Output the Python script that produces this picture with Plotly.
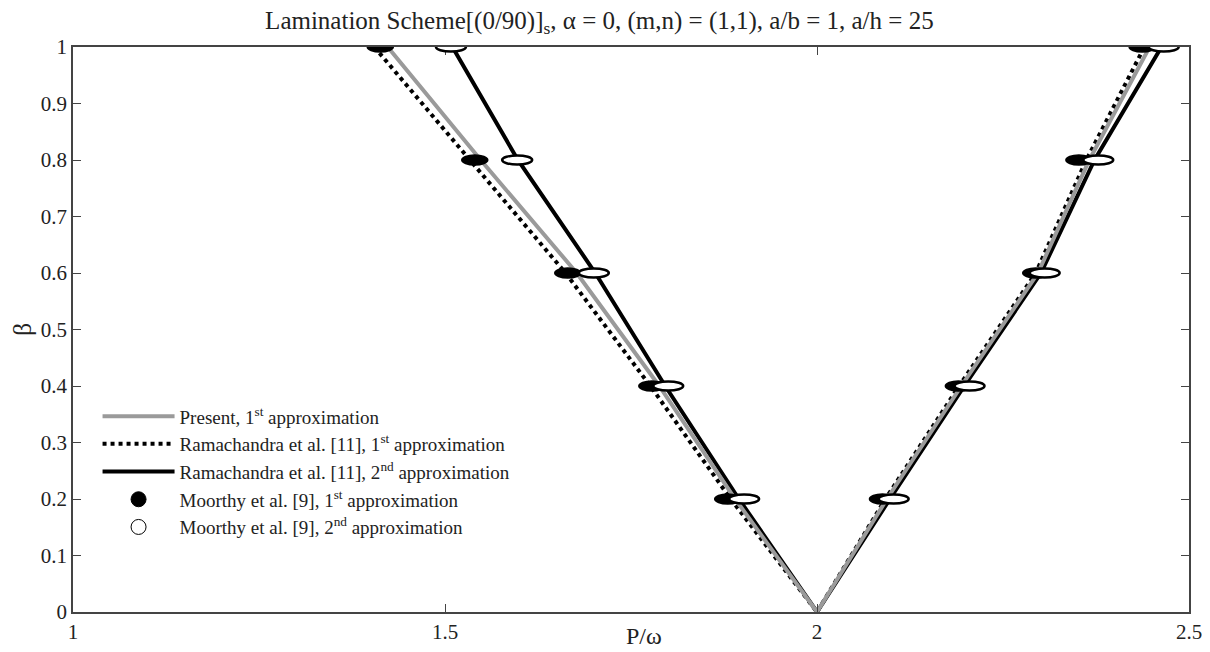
import plotly.graph_objects as go

# beta levels
beta = [0.0, 0.2, 0.4, 0.6, 0.8, 1.0]

# Present, 1st approximation (left / right branch P/omega)
present_left = [2.0, 1.890, 1.788, 1.677, 1.548, 1.423]
present_right = [2.0, 2.094, 2.194, 2.297, 2.366, 2.447]

# Ramachandra et al. [11], 1st approximation
rama1_left = [2.0, 1.884, 1.776, 1.662, 1.533, 1.405]
rama1_right = [2.0, 2.092, 2.191, 2.294, 2.362, 2.440]

# Ramachandra et al. [11], 2nd approximation
rama2_left = [2.0, 1.895, 1.796, 1.702, 1.598, 1.510]
rama2_right = [2.0, 2.098, 2.198, 2.301, 2.373, 2.463]

# Moorthy et al. [9] markers
moorthy_beta = [0.2, 0.4, 0.6, 0.8, 1.0]
moorthy1_left = [1.880, 1.778, 1.665, 1.540, 1.413]
moorthy1_right = [2.088, 2.190, 2.294, 2.352, 2.437]
moorthy2_left = [1.902, 1.800, 1.700, 1.597, 1.508]
moorthy2_right = [2.103, 2.205, 2.306, 2.378, 2.466]

x_ticks = [1, 1.5, 2, 2.5]
x_ticktext = ["1", "1.5", "2", "2.5"]
y_ticks = [0, 0.1, 0.2, 0.3, 0.4, 0.5, 0.6, 0.7, 0.8, 0.9, 1.0]
y_ticktext = ["0", "0.1", "0.2", "0.3", "0.4", "0.5", "0.6", "0.7", "0.8", "0.9", "1"]


def vshape(left, right):
    xs = list(reversed(left)) + right[1:]
    ys = list(reversed(beta)) + beta[1:]
    return xs, ys


fig = go.Figure()

x, y = vshape(rama2_left, rama2_right)
fig.add_trace(go.Scatter(x=x, y=y, mode="lines",
                         line=dict(color="black", width=4),
                         name="Ramachandra et al. [11], 2<sup>nd</sup> approximation",
                         legendrank=3))
x, y = vshape(rama1_left, rama1_right)
fig.add_trace(go.Scatter(x=x, y=y, mode="lines",
                         line=dict(color="black", width=4, dash="dot"),
                         name="Ramachandra et al. [11], 1<sup>st</sup> approximation",
                         legendrank=2))
x, y = vshape(present_left, present_right)
fig.add_trace(go.Scatter(x=x, y=y, mode="lines",
                         line=dict(color="#9a9a9a", width=4),
                         name="Present, 1<sup>st</sup> approximation",
                         legendrank=1))

# legend-only entries for Moorthy markers
fig.add_trace(go.Scatter(x=[None], y=[None], mode="markers",
                         marker=dict(symbol="circle", size=15, color="black",
                                     line=dict(color="black", width=1)),
                         name="Moorthy et al. [9], 1<sup>st</sup> approximation",
                         legendrank=4))
fig.add_trace(go.Scatter(x=[None], y=[None], mode="markers",
                         marker=dict(symbol="circle", size=15, color="white",
                                     line=dict(color="black", width=1)),
                         name="Moorthy et al. [9], 2<sup>nd</sup> approximation",
                         legendrank=5))

# ellipse markers anchored at data points (pixel-sized)
shapes = []
for xs in (moorthy1_left, moorthy1_right):
    for xv, yv in zip(xs, moorthy_beta):
        shapes.append(dict(type="circle", xref="x", yref="y",
                           xsizemode="pixel", ysizemode="pixel",
                           xanchor=xv, yanchor=yv,
                           x0=-13, x1=13, y0=-5, y1=5,
                           fillcolor="black", line=dict(color="black", width=1.5)))
for xs in (moorthy2_left, moorthy2_right):
    for xv, yv in zip(xs, moorthy_beta):
        shapes.append(dict(type="circle", xref="x", yref="y",
                           xsizemode="pixel", ysizemode="pixel",
                           xanchor=xv, yanchor=yv,
                           x0=-15, x1=15, y0=-4.5, y1=4.5,
                           fillcolor="white", line=dict(color="black", width=2.5)))

font_family = "Liberation Serif, Times New Roman, serif"

fig.update_layout(
    width=1202, height=644,
    margin=dict(l=65, r=21, t=39, b=40, autoexpand=False),
    paper_bgcolor="white", plot_bgcolor="white",
    font=dict(family=font_family, size=20, color="#222"),
    title=dict(text="Lamination Scheme[(0/90)]<sub>s</sub>, α = 0, (m,n) = (1,1), a/b = 1, a/h = 25",
               x=0.492, xanchor="center", y=0.995, yanchor="top",
               font=dict(family=font_family, size=25, color="#222")),
    shapes=shapes,
    annotations=[dict(text="P/ω", xref="paper", yref="paper", x=0.512, y=-0.042,
                      xanchor="center", yanchor="middle", showarrow=False,
                      font=dict(family=font_family, size=24, color="#222"))],
    showlegend=True,
    legend=dict(x=0.022, y=0.38, xanchor="left", yanchor="top",
                bgcolor="rgba(0,0,0,0)", borderwidth=0,
                font=dict(family=font_family, size=19, color="#222"),
                tracegroupgap=0, itemwidth=72),
)

fig.update_xaxes(range=[1, 2.5], tickvals=x_ticks, ticktext=x_ticktext,
                 showgrid=False, zeroline=False, automargin=False,
                 showline=True, linecolor="#444", linewidth=1.5, mirror="ticks",
                 ticks="inside", ticklen=8, tickcolor="#444",
                 tickfont=dict(size=21))
fig.update_yaxes(range=[0, 1], tickvals=y_ticks, ticktext=y_ticktext,
                 showgrid=False, zeroline=False, automargin=False,
                 showline=True, linecolor="#444", linewidth=1.5, mirror="ticks",
                 ticks="inside", ticklen=8, tickcolor="#444",
                 title=dict(text="β", standoff=4, font=dict(size=26)),
                 tickfont=dict(size=21))

fig.write_html("out.html")
